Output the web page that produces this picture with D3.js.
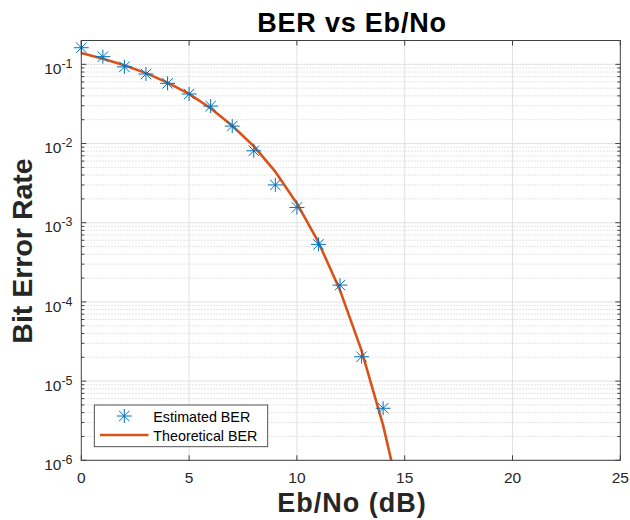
<!DOCTYPE html>
<html>
<head>
<meta charset="utf-8">
<script src="https://cdn.jsdelivr.net/npm/d3@7/dist/d3.min.js"></script>
<style>
  body { margin: 0; background: #fff; }
  svg { display: block; font-family: "Liberation Sans", Arial, Helvetica, sans-serif; }
</style>
</head>
<body>
<svg id="chart" width="630" height="520"></svg>
<script>
// ---- data ----
const ebnoEstimated = [0, 1, 2, 3, 4, 5, 6, 7, 8, 9, 10, 11, 12, 13, 14];
const berEstimated = [0.162, 0.125, 0.093, 0.0755, 0.0575, 0.0422, 0.0297, 0.0166, 0.0081,
                      0.0030, 0.00156, 5.33e-4, 1.63e-4, 2.03e-5, 4.54e-6];
const ebnoTheory = [0, 1, 2, 3, 4, 5, 6, 7, 8, 9, 10, 11, 12, 13, 14, 15];
const berTheory = [0.139, 0.118, 0.0972, 0.0775, 0.0587, 0.0424, 0.0279, 0.0168, 0.00927,
                   0.00441, 0.00175, 5.67e-4, 1.40e-4, 2.43e-5, 2.76e-6, 1.85e-7];
const xTicks = [0, 5, 10, 15, 20, 25];
const yTickExponents = [-6, -5, -4, -3, -2, -1];
const legendLabels = ["Estimated BER", "Theoretical BER"];
const titleText = "BER vs Eb/No";
const xLabelText = "Eb/No (dB)";
const yLabelText = "Bit Error Rate";

// ---- layout ----
const L = 81.3, R = 620.3, T = 40.5, B = 460.3;
const blue = "#0072BD", orange = "#D95319", axisCol = "#404040", textCol = "#262626";

const svg = d3.select("#chart");
const x = d3.scaleLinear().domain([0, 25]).range([L, R]);
const y = d3.scaleLog().domain([1e-6, 0.2]).range([B, T]);

// minor ticks values
const minorVals = [];
for (let e = -6; e <= -1; e++) {
  for (let m = 2; m <= 9; m++) {
    const v = m * Math.pow(10, e);
    if (v <= 0.2 + 1e-12) minorVals.push(v);
  }
}
const majorVals = yTickExponents.map(e => Math.pow(10, e));

// grid
const grid = svg.append("g");
grid.selectAll(".ymin").data(minorVals.filter(v => v < 0.2)).enter().append("line")
  .attr("x1", L).attr("x2", R).attr("y1", d => y(d)).attr("y2", d => y(d))
  .attr("stroke", "#d4d4d4").attr("stroke-width", 0.8).attr("stroke-dasharray", "1.5,1.5");
grid.selectAll(".ymaj").data(majorVals).enter().append("line")
  .attr("x1", L).attr("x2", R).attr("y1", d => y(d)).attr("y2", d => y(d))
  .attr("stroke", "#e2e2e2").attr("stroke-width", 1);
grid.selectAll(".xmaj").data(xTicks.slice(1, -1)).enter().append("line")
  .attr("y1", T).attr("y2", B).attr("x1", d => x(d)).attr("x2", d => x(d))
  .attr("stroke", "#e2e2e2").attr("stroke-width", 1);

// clip
svg.append("clipPath").attr("id", "clip").append("rect")
  .attr("x", L).attr("y", T).attr("width", R - L).attr("height", B - T);

// theoretical line
const line = d3.line().x((d, i) => x(ebnoTheory[i])).y(d => y(d));
svg.append("path").datum(berTheory)
  .attr("clip-path", "url(#clip)")
  .attr("d", line).attr("fill", "none").attr("stroke", orange)
  .attr("stroke-width", 2.6).attr("stroke-linejoin", "round");

// asterisk marker
function star(g, cx, cy) {
  const h = 7.5, v = 7, d = 5.2;
  const segs = [[-h, 0, h, 0], [0, -v, 0, v], [-d, -d, d, d], [-d, d, d, -d]];
  segs.forEach(s => g.append("line")
    .attr("x1", cx + s[0]).attr("y1", cy + s[1]).attr("x2", cx + s[2]).attr("y2", cy + s[3])
    .attr("stroke", blue).attr("stroke-width", 1));
}
const markers = svg.append("g");
berEstimated.forEach((v, i) => star(markers, x(ebnoEstimated[i]), y(v)));

// axes box
const ax = svg.append("g");
ax.append("rect").attr("x", L).attr("y", T).attr("width", R - L).attr("height", B - T)
  .attr("fill", "none").attr("stroke", axisCol).attr("stroke-width", 1);

// x ticks (bottom & top, inward)
xTicks.forEach(t => {
  ax.append("line").attr("x1", x(t)).attr("x2", x(t)).attr("y1", B).attr("y2", B - 5)
    .attr("stroke", axisCol);
  ax.append("line").attr("x1", x(t)).attr("x2", x(t)).attr("y1", T).attr("y2", T + 5)
    .attr("stroke", axisCol);
  ax.append("text").attr("x", x(t)).attr("y", B + 23).attr("text-anchor", "middle")
    .attr("font-size", 15.5).attr("fill", textCol).text(t);
});

// y ticks major
majorVals.forEach((v, i) => {
  ax.append("line").attr("x1", L).attr("x2", L + 5).attr("y1", y(v)).attr("y2", y(v)).attr("stroke", axisCol);
  ax.append("line").attr("x1", R).attr("x2", R - 5).attr("y1", y(v)).attr("y2", y(v)).attr("stroke", axisCol);
  const tx = ax.append("text").attr("x", 72.5).attr("y", y(v) + 9.7).attr("text-anchor", "end")
    .attr("font-size", 15.5).attr("fill", textCol);
  tx.append("tspan").text("10");
  tx.append("tspan").attr("dy", -6).attr("font-size", 12.5).text(yTickExponents[i]);
});
// y ticks minor
minorVals.forEach(v => {
  ax.append("line").attr("x1", L).attr("x2", L + 3).attr("y1", y(v)).attr("y2", y(v)).attr("stroke", axisCol);
  ax.append("line").attr("x1", R).attr("x2", R - 3).attr("y1", y(v)).attr("y2", y(v)).attr("stroke", axisCol);
});

// labels
svg.append("text").attr("x", 352).attr("y", 31.5).attr("text-anchor", "middle")
  .attr("font-size", 27).attr("font-weight", "bold").attr("fill", "#000")
  .attr("letter-spacing", 0.8).text(titleText);
svg.append("text").attr("x", 352).attr("y", 511.5).attr("text-anchor", "middle")
  .attr("font-size", 27).attr("font-weight", "bold").attr("fill", textCol)
  .attr("letter-spacing", 1).text(xLabelText);
svg.append("text").attr("transform", "translate(31.5,251) rotate(-90)").attr("text-anchor", "middle")
  .attr("font-size", 28.5).attr("font-weight", "bold").attr("fill", textCol).text(yLabelText);

// legend
const lg = svg.append("g");
lg.append("rect").attr("x", 94.3).attr("y", 405).attr("width", 173.4).attr("height", 41.7)
  .attr("fill", "#fff").attr("stroke", "#404040").attr("stroke-width", 0.9);
star(lg, 124.3, 416);
lg.append("line").attr("x1", 100).attr("x2", 148.5).attr("y1", 435).attr("y2", 435)
  .attr("stroke", orange).attr("stroke-width", 2.6);
lg.append("text").attr("x", 153.3).attr("y", 421.5).attr("font-size", 14.3).attr("fill", "#000").text(legendLabels[0]);
lg.append("text").attr("x", 153.3).attr("y", 440.5).attr("font-size", 14.3).attr("fill", "#000").text(legendLabels[1]);
</script>
</body>
</html>
